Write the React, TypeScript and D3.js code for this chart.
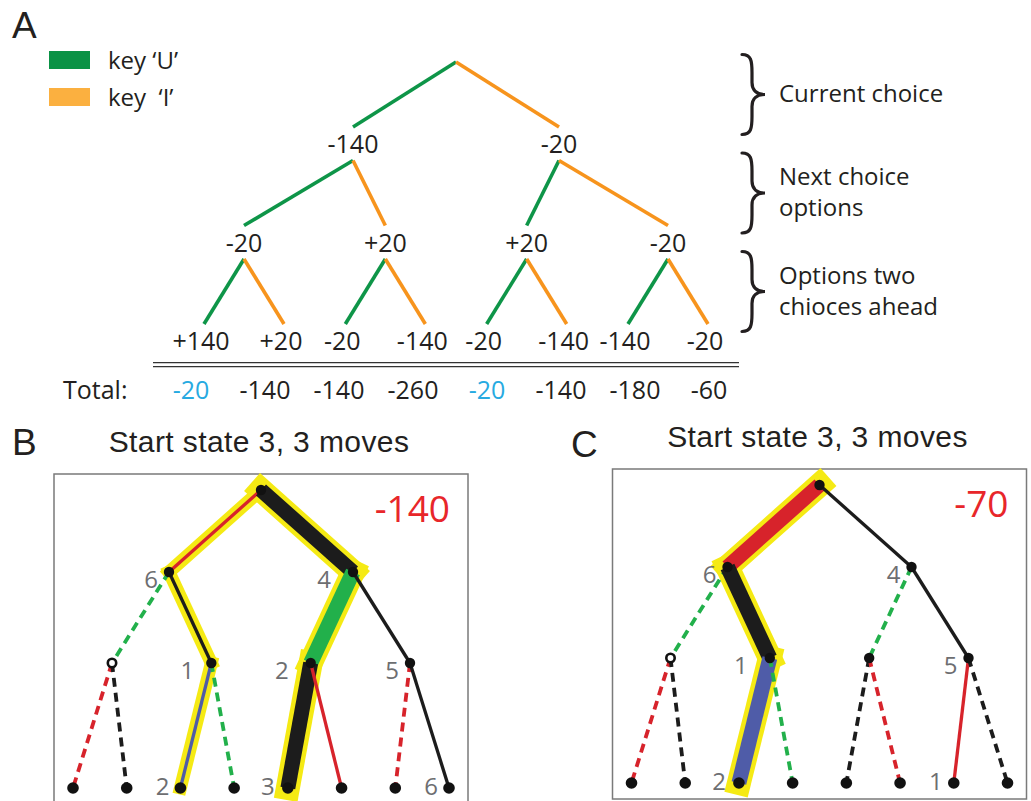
import React from 'react';
import * as d3 from 'd3';

// panel A: the look-ahead tree and its values
const keyNames = ['U', 'I'];
const levelOneValues = [-140, -20];
const levelTwoValues = [-20, 20, 20, -20];
const leafValues = [140, 20, -20, -140, -20, -140, -140, -20];
const totals = [-20, -140, -140, -260, -20, -140, -180, -60];
const levelNotes = [['Current choice'], ['Next choice', 'options'], ['Options two', 'chioces ahead']];

// panels B and C: one entry per edge, breadth first (root's children first)
const panelTitle = 'Start state 3, 3 moves';
const rewardsB = [-140, -20, 140, -20, 140, -20, -140, -20, 20, 140, -20, -140, -140, -20];
const rewardsC = [-70, -20, 140, -20, 140, -20, -70, -20, 20, 140, -20, -70, -70, -20];
// p = pruned, h = heavy (likely choice), b = best path
const flagsB = ['b', 'hb', 'p', 'b', 'hb', '', 'p', 'p', 'b', 'p', 'hb', '', 'p', ''];
const flagsC = ['hb', '', 'p', 'hb', 'p', '', 'p', 'p', 'hb', 'p', 'p', 'p', '', 'p'];
// state number of every node, breadth first
const statesB = [3, 6, 4, null, 1, 2, 5, null, null, 2, null, 3, null, null, 6];
const statesC = [3, 6, 4, null, 1, null, 5, null, null, 2, null, null, null, 1, null];
const lossB = -140;
const lossC = -70;

const myriad = "'Open Sans', 'Noto Sans', sans-serif";
const helv = "'Liberation Sans', Arial, sans-serif";
const ink = '#231f20';

const signed = (v: number) => (v > 0 ? `+${v}` : `${v}`);

function bracePath(x0: number, mid: number, h: number, w: number) {
  const t = mid - h / 2;
  const b = mid + h / 2;
  const p = d3.path();
  p.moveTo(x0, t);
  p.bezierCurveTo(x0 + 9, t, x0 + 10, t + 6, x0 + 10, t + 18);
  p.lineTo(x0 + 10, mid - 12);
  p.bezierCurveTo(x0 + 10, mid - 4, x0 + 15, mid, x0 + w, mid);
  p.bezierCurveTo(x0 + 15, mid, x0 + 10, mid + 4, x0 + 10, mid + 12);
  p.lineTo(x0 + 10, b - 18);
  p.bezierCurveTo(x0 + 10, b - 6, x0 + 9, b, x0, b);
  return p.toString();
}

function PanelA() {
  const cx = 456;
  const rowY = d3.scaleLinear().domain([0, 3]).range([54.5, 350]);
  const xOne = d3.scalePoint<number>().domain(d3.range(levelOneValues.length)).range([cx - 103, cx + 103]);
  const xTwo = d3.scalePoint<number>().domain(d3.range(levelTwoValues.length)).range([cx - 212, cx + 212]);
  const xLeaf = (i: number) => (xTwo(Math.floor(i / 2)) as number) + (i % 2 ? 40 : -40);
  const xTotal = d3.scalePoint<number>().domain(d3.range(totals.length)).range([191, 709]);
  const keyColour = d3.scaleOrdinal<string, string>().domain(keyNames).range(['#0e9548', '#f7941d']);
  const legendColour = d3.scaleOrdinal<string, string>().domain(keyNames).range(['#0a9245', '#fbb040']);
  const best = d3.max(totals) as number;

  const levels: number[][] = [
    [cx],
    levelOneValues.map((_, i) => xOne(i) as number),
    levelTwoValues.map((_, i) => xTwo(i) as number),
    leafValues.map((_, i) => xLeaf(i)),
  ];
  const values = [[], levelOneValues, levelTwoValues, leafValues];

  const edges: any[] = [];
  for (let d = 1; d < levels.length; d++) {
    levels[d].forEach((x, i) => {
      edges.push({
        x1: levels[d - 1][Math.floor(i / 2)], y1: rowY(d - 1) + 7.5,
        x2: x, y2: rowY(d) - 26,
        colour: keyColour(keyNames[i % 2]),
      });
    });
  }

  return (
    <g>
      <text x={12} y={38} fontFamily={helv} fontSize={37} fill={ink}>A</text>
      {keyNames.map((k, i) => (
        <g key={k}>
          <rect x={49} y={51 + i * 37} width={41} height={18} fill={legendColour(k)} />
          <text x={108} y={69 + i * 37} fontFamily={myriad} fontSize={24} fill={ink} style={{ whiteSpace: 'pre' }}>
            {i === 0 ? `key \u2018${k}\u2019` : `key  \u2018${k}\u2019`}
          </text>
        </g>
      ))}
      {edges.map((e, i) => (
        <line key={i} x1={e.x1} y1={e.y1} x2={e.x2} y2={e.y2} stroke={e.colour} strokeWidth={3.6} />
      ))}
      {values.map((vals, d) =>
        vals.map((v, i) => (
          <text key={`${d}-${i}`} x={levels[d][i] - (d === 3 ? 3 : 0)} y={rowY(d)} textAnchor="middle"
            fontFamily={myriad} fontSize={25} fill={ink}>{signed(v)}</text>
        ))
      )}
      <line x1={153} x2={739} y1={362.7} y2={362.7} stroke="#333" strokeWidth={1.3} />
      <line x1={153} x2={739} y1={366.7} y2={366.7} stroke="#333" strokeWidth={1.3} />
      <text x={63} y={399} fontFamily={myriad} fontSize={25} fill={ink}>Total:</text>
      {totals.map((t, i) => (
        <text key={i} x={xTotal(i)} y={399} textAnchor="middle" fontFamily={myriad} fontSize={25}
          fill={t === best ? '#27aae1' : ink}>{`${t}`}</text>
      ))}
      {levelNotes.map((lines, d) => {
        const mid = (rowY(d) + 7.5 + rowY(d + 1) - 26) / 2;
        const first = lines.length === 1 ? mid + 7 : mid - 8;
        return (
          <g key={d}>
            <path d={bracePath(742, mid, 80, 23)} fill="none" stroke={ink} strokeWidth={3.2} strokeLinecap="round" />
            {lines.map((l, j) => (
              <text key={j} x={779} y={first + j * 31} fontFamily={myriad} fontSize={24} fill={ink}>{l}</text>
            ))}
          </g>
        );
      })}
    </g>
  );
}

function TreePanel({ cx, cy, rewards, flags, states, loss }: any) {
  const levelY = [0, 82, 173, 298];
  const spreads = [0, 184, 298, 376];
  const depthOf = (k: number) => Math.floor(Math.log2(k + 1));
  const xs = spreads.map((s, d) =>
    d3.scalePoint<number>().domain(d3.range(2 ** d)).range([-s / 2, s / 2]));
  const node = (k: number) => {
    const d = depthOf(k);
    return { x: xs[d](k + 1 - 2 ** d) as number, y: levelY[d], d };
  };
  const rewardColour = d3.scaleThreshold<number, string>()
    .domain([-50, 0, 100]).range(['#d7232b', '#1c1c1c', '#4f5ca8', '#22b04b']);

  const nodes = states.map((_: any, k: number) => node(k));
  const edges = rewards.map((r: number, e: number) => {
    const child = nodes[e + 1];
    const parent = nodes[Math.floor(e / 2)];
    const f = flags[e];
    return {
      x1: parent.x, y1: parent.y, x2: child.x, y2: child.y,
      colour: rewardColour(r),
      pruned: f.includes('p'), heavy: f.includes('h'), best: f.includes('b'),
    };
  });

  // push a state label clear of the highlighted edge it sits beside
  const labelShift = (k: number) => {
    const n = nodes[k];
    if (n.d === 3) return edges[k - 1].heavy ? 13 : 11;
    const left = edges[2 * k];
    if (left.best) return left.heavy ? 22 : 17;
    return 11;
  };

  return (
    <g transform={`translate(${cx},${cy})`}>
      <text x={-2} y={-38} textAnchor="middle" fontFamily={helv} fontSize={30} letterSpacing={0.4} fill={ink}>
        {panelTitle}
      </text>
      <rect x={-207} y={-16} width={414} height={330} fill="none" stroke="#7a7a7a" strokeWidth={1.5} />
      {edges.filter((e: any) => e.best).map((e: any, i: number) => (
        <line key={`h${i}`} x1={e.x1} y1={e.y1} x2={e.x2} y2={e.y2} stroke="#f5ea14"
          strokeWidth={e.heavy ? 24 : 13} strokeLinecap="square" />
      ))}
      {edges.map((e: any, i: number) => (
        <line key={i} x1={e.x1} y1={e.y1} x2={e.x2} y2={e.y2} stroke={e.colour}
          strokeWidth={e.heavy ? 15 : e.pruned ? 3.8 : 3.3} strokeDasharray={e.pruned ? '9 6' : undefined} />
      ))}
      {nodes.map((n: any, k: number) =>
        k === 3 ? (
          <circle key={k} cx={n.x} cy={n.y} r={4.2} fill="#fff" stroke="#111" strokeWidth={2.6} />
        ) : (
          <circle key={k} cx={n.x} cy={n.y} r={n.d === 3 ? 5.8 : 5.2} fill="#111" />
        )
      )}
      {nodes.map((n: any, k: number) =>
        k > 0 && states[k] != null ? (
          <text key={`s${k}`} x={n.x - labelShift(k)} y={n.y + (n.d === 3 ? 7 : 16)} textAnchor="end"
            fontFamily={myriad} fontSize={24} fill="#6d6e71">{states[k]}</text>
        ) : null
      )}
      <text x={189} y={32} textAnchor="end" fontFamily={myriad} fontSize={37} fill="#e8262a">{`${loss}`}</text>
    </g>
  );
}

export default function App() {
  return (
    <svg width={1031} height={801} style={{ position: 'absolute', left: 0, top: 0, background: '#fff' }}>
      <PanelA />
      <text x={12} y={455} fontFamily={helv} fontSize={37} fill={ink}>B</text>
      <text x={571} y={457} fontFamily={helv} fontSize={37} fill={ink}>C</text>
      <TreePanel cx={261} cy={490} rewards={rewardsB} flags={flagsB} states={statesB} loss={lossB} />
      <TreePanel cx={819.5} cy={485} rewards={rewardsC} flags={flagsC} states={statesC} loss={lossC} />
    </svg>
  );
}
